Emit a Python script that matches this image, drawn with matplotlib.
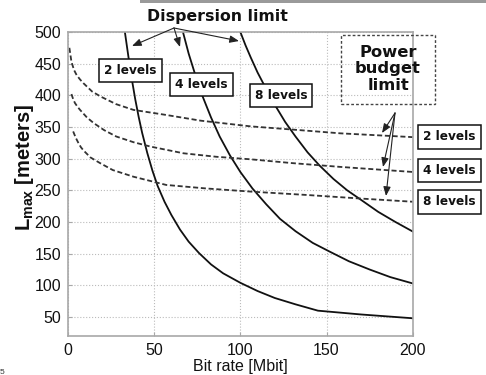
import matplotlib
matplotlib.use("Agg")
import matplotlib.pyplot as plt
from matplotlib.patches import Rectangle, FancyArrowPatch

# ---- data ----
disp2_B = [33, 35, 37, 39, 41, 43, 46, 49, 52, 56, 60, 65, 70, 76, 83, 90, 100, 110, 120, 132, 145, 170, 200]
disp2_L = [500, 462, 426, 394, 366, 341, 309, 281, 257, 232, 211, 188, 169, 151, 133, 119, 104, 91, 80, 70, 60, 54, 48]

disp4_B = [66.7, 70, 74, 78, 83, 88, 94, 100, 107, 115, 123, 132, 142, 152, 163, 175, 187, 200]
disp4_L = [500, 466, 431, 399, 365, 335, 305, 279, 253, 228, 205, 185.5, 167, 153, 138, 125, 113, 103]

disp8_B = [100, 103, 106, 110, 115, 120, 126, 132, 139, 146, 154, 162, 170, 180, 190, 200]
disp8_L = [500, 479, 460, 436, 410, 385, 358, 335, 310, 289, 268, 250, 235, 216, 200, 185]

pow2_B = [0.8, 2, 3.5, 5, 7, 9, 14, 19, 28, 38, 57, 77, 106, 130, 158, 200]
pow2_L = [475, 453, 440, 432, 425, 419, 406, 398, 386, 377, 369, 360, 351, 346, 340, 334]

pow4_B = [2, 3, 4, 5.5, 7, 9, 11, 15, 21, 28, 38, 48, 67, 86, 106, 130, 158, 200]
pow4_L = [402, 394, 388, 382, 377, 371, 365, 356, 345, 335, 326, 319, 308.5, 303, 299, 293, 287, 279]

pow8_B = [3, 4.5, 6, 7.5, 9, 13, 18.6, 26, 38, 57, 80, 106, 139, 170, 200]
pow8_L = [343, 333, 325, 318, 313, 302, 293, 282, 271.5, 258.5, 253, 248, 242.6, 237, 232]

xticks = [0, 50, 100, 150, 200]
yticks = [50, 100, 150, 200, 250, 300, 350, 400, 450, 500]
level_labels = ["2 levels", "4 levels", "8 levels"]

W, H = 486, 375
fig = plt.figure(figsize=(W / 100, H / 100), dpi=100)
ax = fig.add_axes([68 / W, 1 - 336 / H, (412.7 - 68) / W, (336 - 32) / H])

for B, L in [(disp2_B, disp2_L), (disp4_B, disp4_L), (disp8_B, disp8_L)]:
    ax.plot(B, L, color="#111111", lw=1.3, solid_joinstyle="round")
for B, L in [(pow2_B, pow2_L), (pow4_B, pow4_L), (pow8_B, pow8_L)]:
    ax.plot(B, L, color="#333333", lw=1.3, ls=(0, (2.8, 1.5)))

ax.set_xlim(0, 200)
ax.set_ylim(20, 500)
ax.set_xticks(xticks)
ax.set_yticks(yticks)
ax.grid(True, color="#bbbbbb", ls=":", lw=0.8)
for s in ax.spines.values():
    s.set_color("#a8a8a8")
    s.set_linewidth(1.2)
ax.tick_params(direction="in", length=3, color="#a8a8a8", labelsize=11.5,
               labelcolor="#111111", pad=5)
for lab in ax.get_xticklabels() + ax.get_yticklabels():
    lab.set_family("Liberation Sans")

ax.set_xlabel("Bit rate [Mbit]", family="Liberation Sans", fontsize=11.5, labelpad=1, color="#111111")


def fx(px):
    return px / W


def fy(py):
    return 1 - py / H


fig.text(fx(25), fy(167), r"L$_{\mathregular{max}}$ [meters]", family="Liberation Sans",
         fontsize=14.5, fontweight="bold", rotation=90, ha="center", va="center", color="#111111")

bold = dict(family="DejaVu Sans", fontweight="bold", color="#111111")

# title-like annotation
fig.text(fx(217), fy(16), "Dispersion limit", ha="center", va="center", fontsize=11.3, **bold)

arrow_kw = dict(arrowstyle="-|>,head_length=0.55,head_width=0.22", mutation_scale=10,
                color="#222222", lw=0.8, shrinkA=0, shrinkB=0)
for tx, ty in [(132, 46), (180, 47), (239, 41)]:
    fig.add_artist(FancyArrowPatch((fx(174), fy(28)), (fx(tx), fy(ty)),
                                   transform=fig.transFigure, **arrow_kw))

box = dict(boxstyle="square,pad=0.42", fc="white", ec="#111111", lw=1.1)
for (cx, cy), lab in zip([(130.5, 70.5), (201.5, 84.5), (281, 95.5)], level_labels):
    fig.text(fx(cx), fy(cy), lab, ha="center", va="center", fontsize=8.7, bbox=box, **bold)

# power budget box
fig.text(fx(388), fy(69), "Power\nbudget\nlimit", ha="center", va="center", fontsize=11.8,
         linespacing=1.1, **bold)
fig.add_artist(Rectangle((fx(341), fy(104)), (435 - 341) / W, (104 - 35) / H,
                         transform=fig.transFigure, fill=False, ec="#444444", lw=1.0,
                         ls=(0, (2, 1.5))))
for tx, ty in [(382, 133), (383, 167), (386, 196)]:
    fig.add_artist(FancyArrowPatch((fx(395), fy(113)), (fx(tx), fy(ty)),
                                   transform=fig.transFigure, **arrow_kw))

for cy, lab in zip([137, 170.5, 202], level_labels):
    fig.text(fx(449.5), fy(cy), lab, ha="center", va="center", fontsize=8.7, bbox=box, **bold)

# small artefacts of the source picture
fig.text(fx(0), fy(372), "5", ha="left", va="center", fontsize=6, color="#333333",
         family="Liberation Sans")
fig.add_artist(Rectangle((fx(140), fy(3)), (W - 140) / W, 3 / H, transform=fig.transFigure,
                         fc="#9a9a9a", ec="none"))

fig.savefig("out.png", dpi=100)
